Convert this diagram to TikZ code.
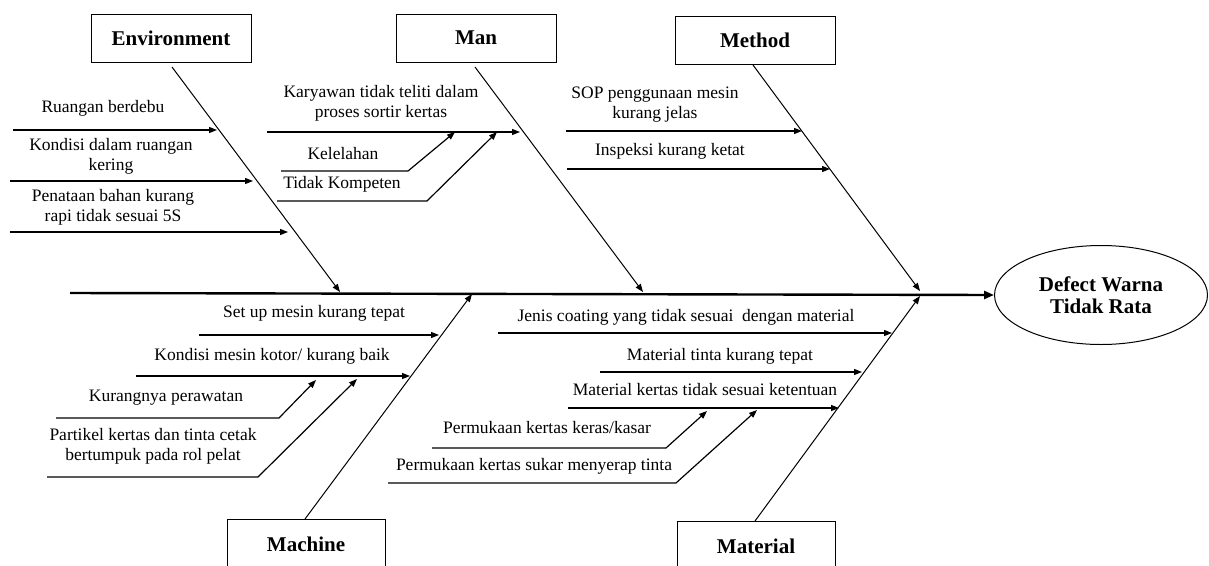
\documentclass[tikz,border=0pt]{standalone}
\usepackage{fontspec}
\setmainfont{Liberation Serif}
\usetikzlibrary{arrows.meta,shapes.geometric}
\begin{document}
\begin{tikzpicture}[x=1pt,y=-1pt,
  cat/.style={draw,line width=1pt,minimum width=160pt,minimum height=48pt,inner sep=0pt,font=\fontsize{21}{23}\selectfont\bfseries},
  lbl/.style={align=center,inner sep=0pt,font=\fontsize{17.5}{20}\selectfont},
  bone/.style={line width=1pt,-{Triangle[length=8pt,width=6pt]}},
  sub/.style={line width=1.2pt,-{Triangle[length=8pt,width=6pt]}},
  spine/.style={line width=2.4pt,-{Triangle[length=10pt,width=8pt]}}]
\useasboundingbox (0,0) rectangle (1209,565);
\fill[white] (0,0) rectangle (1209,565);
% categories
\node[cat] (env) at (171,38) {Environment};
\node[cat] (man) at (476,38) {Man};
\node[cat] (met) at (755,40) {Method};
\draw[line width=1pt] (227,575) |- (385,519) -- (385,575);
\node[font=\fontsize{21}{23}\selectfont\bfseries] (mac) at (306,544) {Machine};
\draw[line width=1pt] (677,575) |- (835,521) -- (835,575);
\node[font=\fontsize{21}{23}\selectfont\bfseries] (mat) at (756,546) {Material};
% effect
\node[draw,ellipse,line width=1pt,minimum width=213pt,minimum height=99pt,align=center,inner sep=0pt,font=\fontsize{21}{22}\selectfont\bfseries] (eff) at (1101,295) {Defect Warna\\Tidak Rata};
% spine
\coordinate (sp0) at (70,293);
\draw[spine] (sp0) -- (eff.west);
% bones
\coordinate (envS) at (172,67);  \coordinate (envE) at (340,292);
\coordinate (manS) at (475,67);  \coordinate (manE) at (643,292);
\coordinate (metS) at (753,65);  \coordinate (metE) at (920,291);
\coordinate (macS) at (305,519); \coordinate (macE) at (472,294);
\coordinate (matS) at (755,521); \coordinate (matE) at (920,296);
\draw[bone] (envS) -- (envE);
\draw[bone] (manS) -- (manE);
\draw[bone] (metS) -- (metE);
\draw[bone] (macS) -- (macE);
\draw[bone] (matS) -- (matE);
% Environment causes
\node[lbl] (e1) at (103,108) {Ruangan berdebu};
\node[lbl] (e2) at (111,156) {Kondisi dalam ruangan\\kering};
\node[lbl] (e3) at (113,207) {Penataan bahan kurang\\rapi tidak sesuai 5S};
\coordinate (e1a) at (13,130);  \coordinate (e1b) at (217,130);
\coordinate (e2a) at (10,181);  \coordinate (e2b) at (253,181);
\coordinate (e3a) at (10,232);  \coordinate (e3b) at (288,232);
\draw[sub] (e1a) -- (e1b);
\draw[sub] (e2a) -- (e2b);
\draw[sub] (e3a) -- (e3b);
% Man causes
\node[lbl] (m1) at (381,103) {Karyawan tidak teliti dalam\\proses sortir kertas};
\node[lbl] (m2) at (343,154) {Kelelahan};
\node[lbl] (m3) at (342,184) {Tidak Kompeten};
\coordinate (m1a) at (267,132); \coordinate (m1b) at (520,132);
\coordinate (m2a) at (281,171); \coordinate (m2k) at (408,171); \coordinate (m2b) at (455,132);
\coordinate (m3a) at (277,201); \coordinate (m3k) at (427,201); \coordinate (m3b) at (497,132);
\draw[sub] (m1a) -- (m1b);
\draw[sub] (m2a) -- (m2k) -- (m2b);
\draw[sub] (m3a) -- (m3k) -- (m3b);
% Method causes
\node[lbl] (t1) at (655,105) {SOP penggunaan mesin\\kurang jelas};
\node[lbl] (t2) at (670,151) {Inspeksi kurang ketat};
\coordinate (t1a) at (566,131); \coordinate (t1b) at (802,131);
\coordinate (t2a) at (567,169); \coordinate (t2b) at (830,169);
\draw[sub] (t1a) -- (t1b);
\draw[sub] (t2a) -- (t2b);
% Machine causes
\node[lbl] (c1) at (314,313) {Set up mesin kurang tepat};
\node[lbl] (c2) at (272,356) {Kondisi mesin kotor/ kurang baik};
\node[lbl] (c3) at (166,398) {Kurangnya perawatan};
\node[lbl] (c4) at (153,446) {Partikel kertas dan tinta cetak\\bertumpuk pada rol pelat};
\coordinate (c1a) at (199,335); \coordinate (c1b) at (439,335);
\coordinate (c2a) at (136,376); \coordinate (c2b) at (410,376);
\coordinate (c3a) at (56,418);  \coordinate (c3k) at (279,418); \coordinate (c3b) at (316,380);
\coordinate (c4a) at (47,477);  \coordinate (c4k) at (258,477); \coordinate (c4b) at (357,379);
\draw[sub] (c1a) -- (c1b);
\draw[sub] (c2a) -- (c2b);
\draw[sub] (c3a) -- (c3k) -- (c3b);
\draw[sub] (c4a) -- (c4k) -- (c4b);
% Material causes
\node[lbl] (r1) at (686,317) {Jenis coating yang tidak sesuai\ \ dengan material};
\node[lbl] (r2) at (720,356) {Material tinta kurang tepat};
\node[lbl] (r3) at (705,390) {Material kertas tidak sesuai ketentuan};
\node[lbl] (r4) at (547,428) {Permukaan kertas keras/kasar};
\node[lbl] (r5) at (534,466) {Permukaan kertas sukar menyerap tinta};
\coordinate (r1a) at (498,333); \coordinate (r1b) at (892,333);
\coordinate (r2a) at (600,372); \coordinate (r2b) at (862,372);
\coordinate (r3a) at (568,408); \coordinate (r3b) at (839,408);
\coordinate (r4a) at (432,448); \coordinate (r4k) at (666,448); \coordinate (r4b) at (707,411);
\coordinate (r5a) at (388,483); \coordinate (r5k) at (676,483); \coordinate (r5b) at (757,410);
\draw[sub] (r1a) -- (r1b);
\draw[sub] (r2a) -- (r2b);
\draw[sub] (r3a) -- (r3b);
\draw[sub] (r4a) -- (r4k) -- (r4b);
\draw[sub] (r5a) -- (r5k) -- (r5b);
\end{tikzpicture}
\end{document}
